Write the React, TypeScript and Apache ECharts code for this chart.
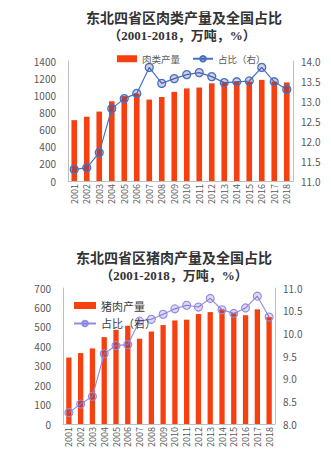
import React, { useEffect, useRef } from "react";
import * as echarts from "echarts";

const years = ["2001","2002","2003","2004","2005","2006","2007","2008","2009","2010","2011","2012","2013","2014","2015","2016","2017","2018"];
const meatOutput = [710, 750, 810, 930, 990, 1020, 950, 980, 1040, 1080, 1090, 1140, 1150, 1160, 1160, 1180, 1160, 1150];
const meatShare = [11.29, 11.33, 11.71, 12.81, 13.06, 13.19, 13.84, 13.44, 13.56, 13.66, 13.71, 13.61, 13.46, 13.48, 13.5, 13.84, 13.48, 13.29];
const porkOutput = [342, 365, 389, 447, 485, 506, 439, 476, 509, 533, 537, 566, 576, 590, 570, 560, 590, 550];
const porkShare = [8.25, 8.44, 8.61, 9.55, 9.73, 9.75, 10.27, 10.31, 10.42, 10.54, 10.62, 10.58, 10.77, 10.52, 10.44, 10.56, 10.82, 10.36];

const title1 = "东北四省区肉类产量及全国占比";
const title2 = "东北四省区猪肉产量及全国占比";
const subtitle = "（2001-2018，万吨，%）";

const BAR = "#F7400F";
const LINE1 = "#4472C4";
const LINE2 = "#8C8CE8";
const LABEL = "#595959";
const AXIS = "#BFBFBF";

export default function App() {
  const ref = useRef<HTMLDivElement>(null);
  useEffect(() => {
    if (!ref.current) return;
    const chart = echarts.init(ref.current, null, { renderer: "svg" });
    const font = "'Noto Sans CJK SC', 'Noto Sans', sans-serif";
    const tfont = "'Liberation Serif', 'Noto Sans CJK SC', serif";
    const valAxis = (gridIndex: number, min: number, max: number, interval: number, pos: string, dec: boolean) => ({
      type: "value",
      gridIndex,
      min,
      max,
      interval,
      position: pos,
      splitLine: { show: false },
      axisLine: { show: true, lineStyle: { color: AXIS, width: 1 } },
      axisTick: { show: false },
      axisLabel: {
        color: LABEL,
        fontSize: 10,
        fontFamily: font,
        margin: pos === "left" ? 12 : 8,
        formatter: (v: number) => (dec ? v.toFixed(1) : String(v)),
      },
    });
    const catAxis = (gridIndex: number) => ({
      type: "category",
      gridIndex,
      data: years,
      axisLine: { show: true, lineStyle: { color: AXIS } },
      axisTick: { show: false },
      axisLabel: { interval: 0, rotate: 90, color: LABEL, fontSize: 9, fontFamily: font, margin: 3 },
    });
    const tstyle = { fontSize: 14, fontWeight: "bold", color: "#333", fontFamily: tfont, lineHeight: 16 };
    const sstyle = { fontSize: 13, fontWeight: "bold", color: "#333", fontFamily: tfont, lineHeight: 16 };
    chart.setOption({
      animation: false,
      backgroundColor: "#fff",
      textStyle: { fontFamily: font },
      title: [
        { text: title1, left: 184, top: 10, padding: 0, textAlign: "center", textStyle: tstyle },
        { text: subtitle, left: 182, top: 27, padding: 0, textAlign: "center", textStyle: sstyle },
        { text: title2, left: 174, top: 250, padding: 0, textAlign: "center", textStyle: tstyle },
        { text: subtitle, left: 174, top: 267, padding: 0, textAlign: "center", textStyle: sstyle },
      ],
      legend: [
        {
          left: 112, top: 49, itemWidth: 20, itemHeight: 7, itemGap: 12,
          textStyle: { fontSize: 9.5, color: LABEL, fontFamily: font },
          data: [{ name: "肉类产量", icon: "rect" }, { name: "占比（右）" }],
        },
        {
          left: 68, top: 295, orient: "vertical", itemWidth: 22, itemHeight: 7, itemGap: 7,
          textStyle: { fontSize: 11, color: "#404040", fontFamily: font },
          data: [{ name: "猪肉产量", icon: "rect" }, { name: "占比（右） " }],
        },
      ],
      grid: [
        { left: 68, width: 225, top: 61, height: 120 },
        { left: 63, width: 212, top: 288, height: 136 },
      ],
      xAxis: [catAxis(0), catAxis(1)],
      yAxis: [
        valAxis(0, 0, 1400, 200, "left", false),
        valAxis(0, 11, 14, 0.5, "right", true),
        valAxis(1, 0, 700, 100, "left", false),
        valAxis(1, 8, 11, 0.5, "right", true),
      ],
      series: [
        { name: "肉类产量", type: "bar", xAxisIndex: 0, yAxisIndex: 0, data: meatOutput, barWidth: "45%", itemStyle: { color: BAR } },
        {
          name: "占比（右）", type: "line", xAxisIndex: 0, yAxisIndex: 1, data: meatShare,
          symbol: "circle", symbolSize: 8,
          lineStyle: { color: LINE1, width: 1.2 },
          itemStyle: { color: "rgba(70,30,110,0.22)", borderColor: LINE1, borderWidth: 1.3 },
        },
        { name: "猪肉产量", type: "bar", xAxisIndex: 1, yAxisIndex: 2, data: porkOutput, barWidth: "45%", itemStyle: { color: BAR } },
        {
          name: "占比（右） ", type: "line", xAxisIndex: 1, yAxisIndex: 3, data: porkShare,
          symbol: "circle", symbolSize: 8,
          lineStyle: { color: LINE2, width: 1.1 },
          itemStyle: { color: "rgba(80,40,130,0.18)", borderColor: LINE2, borderWidth: 1.1 },
        },
      ],
    });
    return () => chart.dispose();
  }, []);
  return <div ref={ref} style={{ position: "fixed", left: 0, top: 0, width: 331, height: 459 }} />;
}
